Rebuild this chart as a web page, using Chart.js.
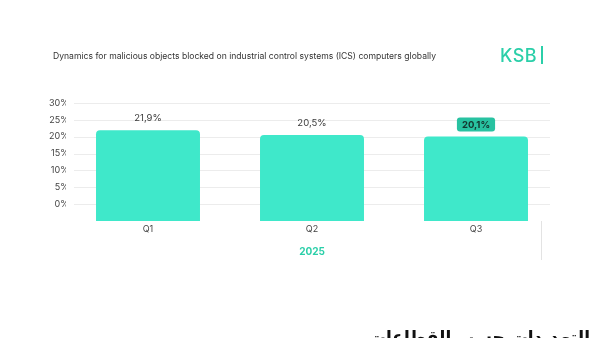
<!DOCTYPE html>
<html>
<head>
<meta charset="utf-8">
<script src="https://cdn.jsdelivr.net/npm/chart.js@4"></script>
<style>
  body { margin: 0; background: #fff; }
  #wrap { position: relative; width: 600px; height: 338px; overflow: hidden; font-family: Inter, "Open Sans", sans-serif; }
  #chart { position: absolute; left: 0; top: 0; }
  #title { position: absolute; left: 53px; top: 51px; font-size: 8.6px; color: #333; white-space: nowrap; }
  #logo { position: absolute; left: 500px; top: 45px; font-size: 18px; color: #2bcfa9; font-weight: 500; letter-spacing: 0.5px; }
  #logo span { display: inline-block; width: 2px; height: 18px; background: #2bcfa9; margin-left: 4px; vertical-align: -2px; }
  #vline { position: absolute; left: 541px; top: 221px; width: 1px; height: 39px; background: #e3e3e3; }
  #arabic { position: absolute; right: 10px; top: 327px; font-family: "DejaVu Sans", sans-serif; font-weight: bold; font-size: 17px; color: #111; direction: rtl; white-space: nowrap; }
</style>
</head>
<body>
<div id="wrap">
  <canvas id="chart" width="600" height="338"></canvas>
  <div id="title">Dynamics for malicious objects blocked on industrial control systems (ICS) computers globally</div>
  <div id="logo">KSB<span></span></div>
  <div id="vline"></div>
  <div id="arabic">التهديدات حسب القطاعات</div>
</div>
<script>
// quarters and share of ICS computers with blocked objects, %
let quarters = ['Q1', 'Q2', 'Q3'];
let shares = [21.9, 20.5, 20.1];
let yearLabel = '2025';
let yTicks = [0, 5, 10, 15, 20, 25, 30];
let highlightIndex = 2;

const barColor = '#3fe8ca';

function fmt(v) {
    return String(v).replace('.', ',') + '%';
}

// gridlines a bit shorter than the plot area, like the original
const shortGrid = {
    id: 'shortGrid',
    beforeDatasetsDraw(chart) {
        const ctx = chart.ctx;
        const y = chart.scales.y;
        ctx.save();
        ctx.strokeStyle = '#ececec';
        ctx.lineWidth = 1;
        yTicks.forEach(t => {
            let py = Math.round(y.getPixelForValue(t)) + 0.5;
            ctx.beginPath();
            ctx.moveTo(74, py);
            ctx.lineTo(550, py);
            ctx.stroke();
        });
        ctx.restore();
    }
};

const valueLabels = {
    id: 'valueLabels',
    afterDatasetsDraw(chart) {
        const ctx = chart.ctx;
        const meta = chart.getDatasetMeta(0);
        ctx.save();
        ctx.textAlign = 'center';
        ctx.textBaseline = 'middle';
        meta.data.forEach((bar, i) => {
            let txt = fmt(shares[i]);
            let cy = bar.y - 12;
            if (i == highlightIndex) {
                ctx.font = 'bold 9.5px Inter, sans-serif';
                let w = ctx.measureText(txt).width + 10;
                ctx.fillStyle = '#28c2a1';
                ctx.beginPath();
                ctx.roundRect(bar.x - w / 2, cy - 7, w, 14, 3);
                ctx.fill();
                ctx.fillStyle = '#14352f';
                ctx.fillText(txt, bar.x, cy + 0.5);
            } else {
                ctx.font = '9.5px Inter, sans-serif';
                ctx.fillStyle = '#3a3a3a';
                ctx.fillText(txt, bar.x, cy);
            }
        });
        ctx.restore();
    }
};

new Chart(document.getElementById('chart'), {
    type: 'bar',
    data: {
        labels: quarters,
        datasets: [{
            data: shares,
            base: -5,
            backgroundColor: barColor,
            borderRadius: { topLeft: 4, topRight: 4 },
            borderSkipped: 'bottom',
            categoryPercentage: 1,
            barPercentage: 0.634
        }]
    },
    options: {
        responsive: false,
        animation: false,
        devicePixelRatio: 1,
        layout: { padding: { left: 0, right: 42, top: 103, bottom: 80 } },
        plugins: {
            legend: { display: false },
            tooltip: { enabled: false }
        },
        scales: {
            x: {
                grid: { display: false, drawTicks: false },
                border: { display: false },
                ticks: { color: '#444', font: { family: 'Inter', size: 9 }, padding: 3 },
                title: {
                    display: true,
                    text: yearLabel,
                    color: '#2bcfa9',
                    font: { family: 'Inter', size: 10, weight: 'bold' },
                    padding: { top: 14, bottom: 0 }
                },
                afterFit: s => { s.height = 37; }
            },
            y: {
                min: -5,
                max: 30,
                grid: { display: false, drawTicks: false },
                border: { display: false },
                ticks: {
                    stepSize: 5,
                    padding: -3,
                    color: '#444',
                    font: { family: 'Inter', size: 9 },
                    callback: v => (v < 0 ? '' : v + '%')
                },
                afterFit: s => { s.width = 66; }
            }
        }
    },
    plugins: [shortGrid, valueLabels]
});
</script>
</body>
</html>
